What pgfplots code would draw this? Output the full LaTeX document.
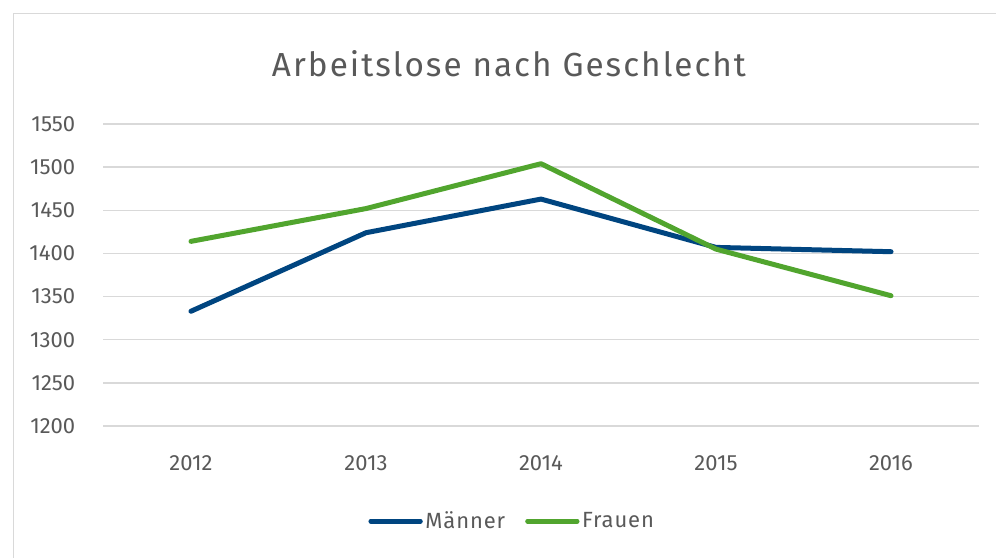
\documentclass[border=0pt]{standalone}
\usepackage{fontspec}
\setmainfont{Fira Sans}
\usepackage{pgfplots}
\pgfplotsset{compat=1.18}
\definecolor{mblue}{HTML}{004580}
\definecolor{fgreen}{HTML}{51A52E}
\definecolor{txt}{HTML}{595959}
\definecolor{gridc}{HTML}{D9D9D9}
\begin{document}
\begin{tikzpicture}
\path[use as bounding box] (0,0) rectangle ({996*0.75pt},{-557*0.75pt});
\begin{scope}
\clip (0,0) rectangle ({996*0.75pt},{-557*0.75pt});
\draw[gridc, line width=1pt] ({13.5*0.75pt},{-13.5*0.75pt}) rectangle ({1010*0.75pt},{-570*0.75pt});
\end{scope}
\node[txt, font=\fontsize{25}{30}\selectfont\addfontfeature{LetterSpace=6}] at ({509*0.75pt},{-64*0.75pt}) {Arbeitslose nach Geschlecht};
\begin{axis}[
  at={({103.5*0.75pt},{-426*0.75pt})}, anchor=south west,
  scale only axis, width=656.25pt, height=226.5pt,
  xmin=-0.5, xmax=4.5, ymin=1200, ymax=1550,
  ytick={1200,1250,...,1550},
  xtick={0,1,2,3,4}, xticklabels={2012,2013,2014,2015,2016},
  ymajorgrids, grid style={gridc, line width=1.1pt},
  axis line style={draw=none}, tick style={draw=none},
  clip=false,
  /pgf/number format/assume math mode=true,
  /pgf/number format/1000 sep={},
  ticklabel style={txt, font=\fontsize{16.5}{19}\selectfont},
  yticklabel style={anchor=east, inner sep=0pt, xshift=-21pt},
  xticklabel style={anchor=north, inner sep=0pt, yshift=-22pt},
  legend style={at={(0.4675,-0.315)}, anchor=center, draw=none, fill=none,
    font=\fontsize{16.5}{19}\selectfont\addfontfeature{LetterSpace=4}, text=txt, legend columns=2,
    /tikz/every odd column/.append style={column sep=0pt},
    /tikz/every even column/.append style={column sep=13pt},
    nodes={inner xsep=2pt}},
  legend image code/.code={\draw[#1, line width=3.75pt, line cap=round] (0pt,0pt) -- (37pt,0pt);},
]
\addplot[mblue, line width=3.75pt, line cap=round, line join=round] coordinates {(0,1333) (1,1424) (2,1463) (3,1407) (4,1402)};
\addlegendentry{Männer}
\addplot[fgreen, line width=3.75pt, line cap=round, line join=round] coordinates {(0,1414) (1,1452) (2,1504) (3,1405) (4,1351)};
\addlegendentry{Frauen}
\end{axis}
\end{tikzpicture}
\end{document}
